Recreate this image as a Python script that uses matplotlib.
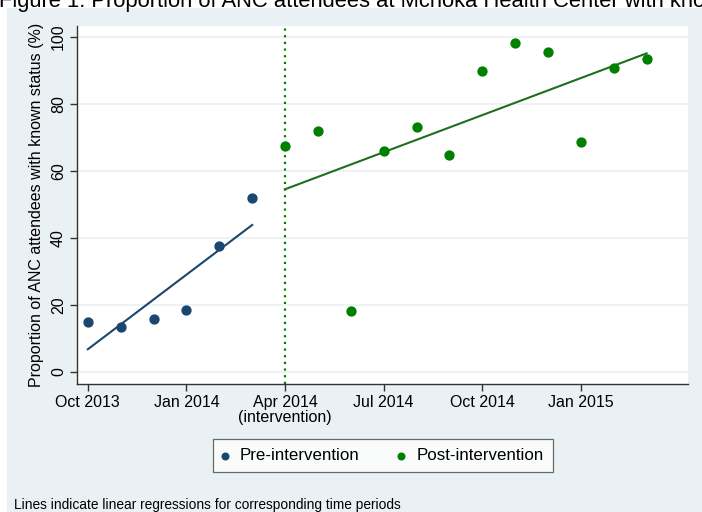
import matplotlib
matplotlib.use("Agg")
import matplotlib.pyplot as plt
import numpy as np
from matplotlib.patches import Rectangle

plt.rcParams["font.family"] = ["Liberation Sans", "DejaVu Sans"]

BG = "#eaf1f4"
NAVY = "#1a476f"
GREEN = "#008000"
LINE_GREEN = "#1f6e1f"

# monthly proportions (%)
pre_months = ["2013-10", "2013-11", "2013-12", "2014-01", "2014-02", "2014-03"]
pre_values = [14.9, 13.4, 15.8, 18.5, 37.6, 51.8]

post_months = ["2014-04", "2014-05", "2014-06", "2014-07", "2014-08", "2014-09",
               "2014-10", "2014-11", "2014-12", "2015-01", "2015-02", "2015-03"]
post_values = [67.5, 72.0, 18.2, 66.0, 73.2, 64.8, 89.9, 98.3, 95.4, 68.7, 90.8, 93.4]

tick_months = ["2013-10", "2014-01", "2014-04", "2014-07", "2014-10", "2015-01"]
tick_labels = ["Oct 2013", "Jan 2014", "Apr 2014\n(intervention)", "Jul 2014", "Oct 2014", "Jan 2015"]
intervention = "2014-04"
y_ticks = [0, 20, 40, 60, 80, 100]


def month_index(s):
    year, month = s.split("-")
    return (int(year) - 2013) * 12 + int(month) - 10


def to_x(months):
    return np.array([month_index(m) for m in months], dtype=float)


fig = plt.figure(figsize=(7.02, 5.12), dpi=100)
fig.patch.set_facecolor("white")
fig.patches.append(Rectangle((7 / 702, 0), 1, 1 - 8 / 512, transform=fig.transFigure,
                             facecolor=BG, edgecolor="none", zorder=-10))
# title is clipped by the top edge in the original
fig.text(-1 / 702, 1 - 7 / 512,
         "Figure 1. Proportion of ANC attendees at Mchoka Health Center with known HIV status",
         fontsize=15.8, va="baseline", ha="left")

ax = fig.add_axes([77 / 702, 128 / 512, (688 - 77) / 702, (384 - 25.7) / 512])
ax.set_facecolor("white")

x_pre, y_pre = to_x(pre_months), np.array(pre_values)
x_post, y_post = to_x(post_months), np.array(post_values)

for y in y_ticks:
    ax.axhline(y, color=BG, lw=1.2, zorder=0)

ax.axvline(month_index(intervention), color=GREEN, ls=(0, (1, 2)), lw=1.6, zorder=1)

b = np.polyfit(x_pre, y_pre, 1)
ax.plot(x_pre[[0, -1]], np.polyval(b, x_pre[[0, -1]]), color=NAVY, lw=1.5, zorder=2)
b = np.polyfit(x_post, y_post, 1)
ax.plot(x_post[[0, -1]], np.polyval(b, x_post[[0, -1]]), color=LINE_GREEN, lw=1.5, zorder=2)

ax.scatter(x_pre, y_pre, s=55, color=NAVY, zorder=3, label="Pre-intervention", linewidths=0)
ax.scatter(x_post, y_post, s=55, color=GREEN, zorder=3, label="Post-intervention", linewidths=0)

ax.set_xlim(-0.33, 18.26)
ax.set_ylim(-3.6, 103.4)
ax.set_xticks(to_x(tick_months))
ax.set_xticklabels(tick_labels, fontsize=11.5, linespacing=0.95)
ax.set_yticks(y_ticks)
ax.set_yticklabels([str(v) for v in y_ticks], fontsize=11.5, rotation=90, va="center")
ax.tick_params(direction="out", length=5, width=1, color="#333333", pad=3)
ax.set_ylabel("Proportion of ANC attendees with known status (%)", fontsize=11.5, labelpad=5)

for side in ["top", "right"]:
    ax.spines[side].set_visible(False)
for side in ["left", "bottom"]:
    ax.spines[side].set_color("#333333")
    ax.spines[side].set_linewidth(1)

leg = fig.legend(loc="center", bbox_to_anchor=(383 / 702, 1 - 455.5 / 512), ncol=2,
                 fontsize=12.2, frameon=True, fancybox=False, edgecolor="#444444",
                 markerscale=0.78, handletextpad=0.75, columnspacing=2.3,
                 handlelength=0.3, borderpad=0.55, borderaxespad=0)
leg.get_frame().set_linewidth(0.9)

fig.text(14 / 702, 1 - 505 / 512, "Lines indicate linear regressions for corresponding time periods",
         fontsize=9.9, va="center", ha="left")

fig.savefig("out.png", dpi=100, facecolor=fig.get_facecolor())
